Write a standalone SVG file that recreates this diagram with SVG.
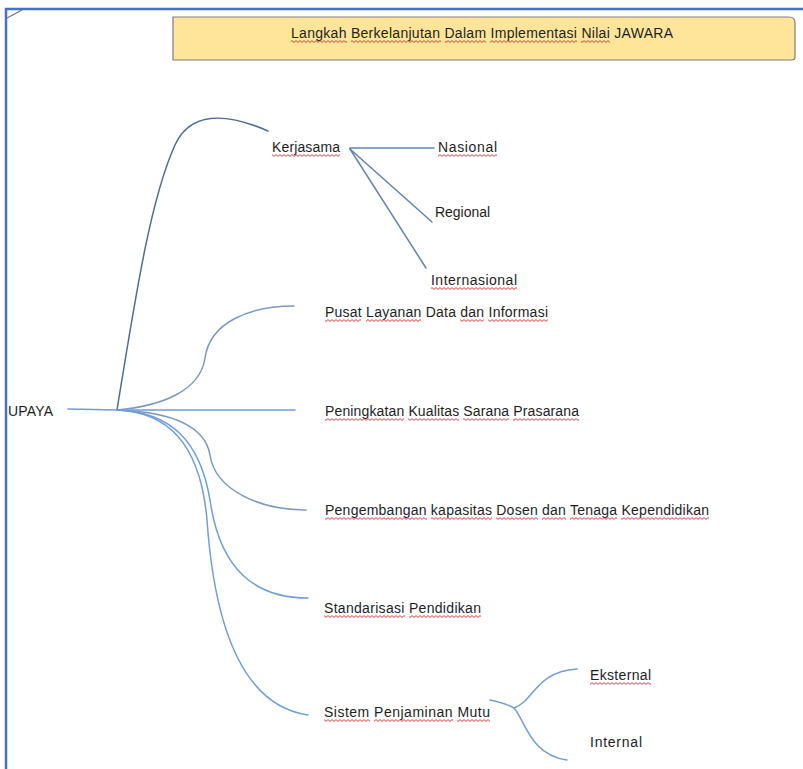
<svg xmlns="http://www.w3.org/2000/svg" width="803" height="769" viewBox="0 0 803 769">
<style>
text{font-family:"Liberation Sans",Arial,sans-serif;font-size:14px;fill:#1e1e1e}
.w{fill:url(#wv)}
.ln{fill:none;stroke:#6f9fd8;stroke-width:1.5;stroke-linecap:round}
.dk{stroke:#4f6e96}
.md{stroke:#6283b3}
.gr{stroke:#7b98c4}
</style>
<defs>
<pattern id="wv" patternUnits="userSpaceOnUse" width="4" height="3">
<path d="M0,0.6 L2,2.4 L4,0.6" fill="none" stroke="#d42a2a" stroke-width="0.9"/>
</pattern>
</defs>
<rect width="803" height="769" fill="#fff"/>
<g id="frame">
<path d="M6,769 V9 H803" fill="none" stroke="#4472c4" stroke-width="2.5"/>
<line x1="7" y1="18" x2="22" y2="10" stroke="#777" stroke-width="1.2"/>
</g>
<g id="title">
<path d="M173,17 H789 Q795,17 795,23 V57 Q795,60 792,60 H173 Z" fill="#fee599" stroke="#7f7f7f" stroke-width="1.2"/>
<text x="291" y="38" textLength="382" lengthAdjust="spacing">Langkah Berkelanjutan Dalam Implementasi Nilai JAWARA</text>
<g transform="translate(0,40)"><rect class="w" x="291" width="56" height="3"/><rect class="w" x="351" width="90" height="3"/><rect class="w" x="445" width="41" height="3"/><rect class="w" x="490" width="87" height="3"/><rect class="w" x="581" width="29" height="3"/></g>
</g>
<g id="connectors">
<path class="ln" d="M68,409 L117,410"/>
<path class="ln dk" d="M117,410 C135,300 150,200 175,145 C190,112 225,112 268,131"/>
<path class="ln md" d="M350,148 H434"/>
<path class="ln md" d="M350,149 L432,222"/>
<path class="ln md" d="M350,149 L426,268"/>
<path class="ln gr" d="M117,410 C160,406 200,392 205,358 C210,322 250,306 294,306"/>
<path class="ln" d="M117,410 H295"/>
<path class="ln gr" d="M117,410 C170,412 205,425 210,455 C215,490 260,510 306,510"/>
<path class="ln" d="M117,410 C170,412 200,440 210,500 C220,570 255,598 308,598"/>
<path class="ln" d="M117,410 C165,412 200,440 207,520 C214,620 240,705 308,715"/>
<path class="ln" d="M490,700 Q505,703 514,708 C535,700 535,672 577,669"/>
<path class="ln" d="M514,708 C525,720 530,755 567,760"/>
</g>
<g id="n-upaya"><text x="8" y="416" textLength="45" lengthAdjust="spacing">UPAYA</text></g>
<g id="n-kerjasama"><text x="272" y="152" textLength="68" lengthAdjust="spacing">Kerjasama</text>
<g transform="translate(0,154)"><rect class="w" x="272" width="68" height="3"/></g></g>
<g id="n-nasional"><text x="438" y="152" textLength="59" lengthAdjust="spacing">Nasional</text>
<g transform="translate(0,154)"><rect class="w" x="438" width="59" height="3"/></g></g>
<g id="n-regional"><text x="435" y="217" textLength="55" lengthAdjust="spacing">Regional</text></g>
<g id="n-internasional"><text x="431" y="285" textLength="86" lengthAdjust="spacing">Internasional</text>
<g transform="translate(0,287)"><rect class="w" x="431" width="86" height="3"/></g></g>
<g id="n-pusat"><text x="325" y="317" textLength="223" lengthAdjust="spacing">Pusat Layanan Data dan Informasi</text>
<g transform="translate(0,319)"><rect class="w" x="325" width="36" height="3"/><rect class="w" x="366" width="55" height="3"/><rect class="w" x="460" width="24" height="3"/><rect class="w" x="488" width="60" height="3"/></g></g>
<g id="n-peningkatan"><text x="325" y="416" textLength="254" lengthAdjust="spacing">Peningkatan Kualitas Sarana Prasarana</text>
<g transform="translate(0,418)"><rect class="w" x="325" width="79" height="3"/><rect class="w" x="408" width="51" height="3"/><rect class="w" x="463" width="46" height="3"/><rect class="w" x="513" width="66" height="3"/></g></g>
<g id="n-pengembangan"><text x="325" y="515" textLength="384" lengthAdjust="spacing">Pengembangan kapasitas Dosen dan Tenaga Kependidikan</text>
<g transform="translate(0,517)"><rect class="w" x="325" width="102" height="3"/><rect class="w" x="431" width="61" height="3"/><rect class="w" x="496" width="42" height="3"/><rect class="w" x="542" width="24" height="3"/><rect class="w" x="570" width="47" height="3"/><rect class="w" x="621" width="88" height="3"/></g></g>
<g id="n-standarisasi"><text x="324" y="613" textLength="157" lengthAdjust="spacing">Standarisasi Pendidikan</text>
<g transform="translate(0,615)"><rect class="w" x="324" width="81" height="3"/><rect class="w" x="409" width="72" height="3"/></g></g>
<g id="n-sistem"><text x="324" y="717" textLength="166" lengthAdjust="spacing">Sistem Penjaminan Mutu</text>
<g transform="translate(0,719)"><rect class="w" x="324" width="46" height="3"/><rect class="w" x="374" width="79" height="3"/><rect class="w" x="457" width="33" height="3"/></g></g>
<g id="n-eksternal"><text x="590" y="680" textLength="61" lengthAdjust="spacing">Eksternal</text>
<g transform="translate(0,682)"><rect class="w" x="590" width="61" height="3"/></g></g>
<g id="n-internal"><text x="590" y="747" textLength="52" lengthAdjust="spacing">Internal</text></g>
</svg>
